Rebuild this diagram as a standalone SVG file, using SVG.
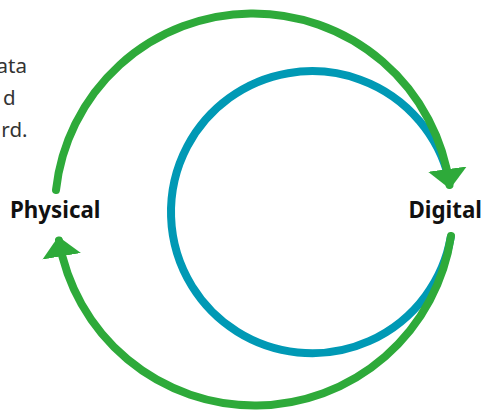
<svg xmlns="http://www.w3.org/2000/svg" width="481" height="414" viewBox="0 0 481 414">
<style>
.lbl{font-family:"Noto Sans","Open Sans",sans-serif;font-weight:bold;font-size:22.3px;fill:#111}
.para{font-family:"Noto Sans","Open Sans",sans-serif;font-size:20.5px;fill:#333}
.g{fill:none;stroke:#2eaa3a;stroke-width:8;stroke-linecap:round}
.b{fill:none;stroke:#0099b5;stroke-width:8;stroke-linecap:round}
</style>
<defs>
<marker id="ah" markerUnits="userSpaceOnUse" viewBox="0 -20 20 40" refX="16" refY="0" markerWidth="20" markerHeight="40" orient="auto">
<path d="M0,-19.5 L20,0 L0,19.5 Z" fill="#2eaa3a"/>
</marker>
</defs>
<rect width="481" height="414" fill="#fff"/>
<g id="text-fragment">
<text class="para" x="27" y="73" text-anchor="end">ata</text>
<text class="para" x="15.5" y="105" text-anchor="end">d</text>
<text class="para" x="27.5" y="137" text-anchor="end">rd.</text>
</g>
<g id="connectors">
<path class="b" d="M448.8 178 A141 141 0 1 0 450.8 237"/>
<path class="g" d="M56 190 A198.25 198.25 0 0 1 449.5 185" marker-end="url(#ah)"/>
<path class="g" d="M451 236 A198.5 198.5 0 0 1 59 240.5" marker-end="url(#ah)"/>
</g>
<g id="physical">
<text class="lbl" x="10" y="218">Physical</text>
</g>
<g id="digital">
<text class="lbl" x="408.5" y="218">Digital</text>
</g>
</svg>
